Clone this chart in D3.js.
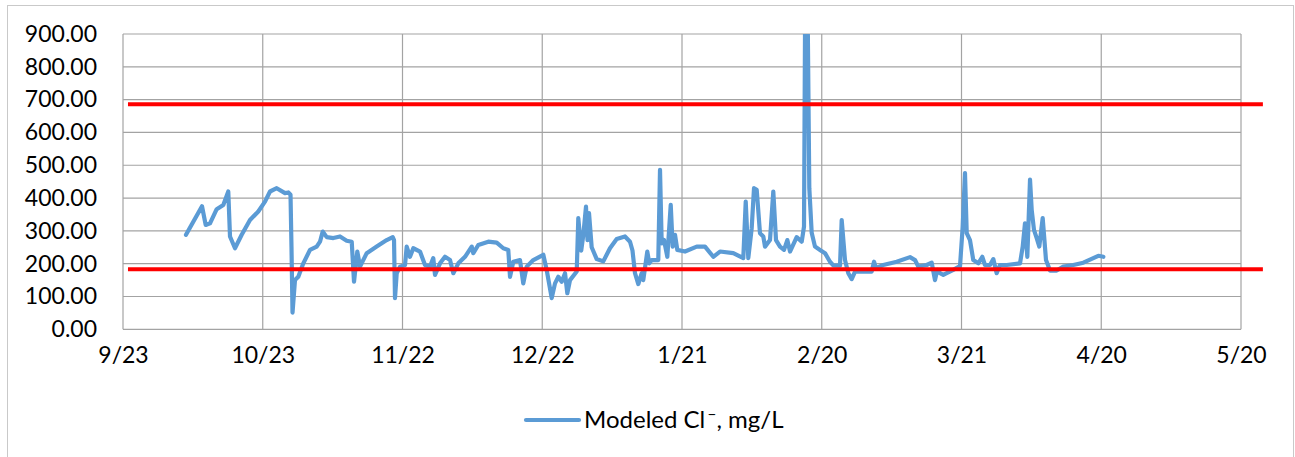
<!DOCTYPE html>
<html>
<head>
<meta charset="utf-8">
<script src="https://cdn.jsdelivr.net/npm/d3@7/dist/d3.min.js"></script>
<style>
  html, body { margin: 0; padding: 0; background: #fff; }
  svg { display: block; }
  text { font-family: Lato, "Open Sans", sans-serif; fill: #000; }
</style>
</head>
<body>
<svg id="chart" width="1295" height="457"></svg>
<script>
// Modeled chloride record, days counted from the start date below
const startDate = "2015-09-23";
const days = [
  13.52, 16.96, 17.75, 18.68, 20.11, 21.53, 22.60, 22.97, 24.04, 25.48,
  27.26, 29.04, 30.48, 31.56, 33.00, 34.78, 35.49, 35.96, 36.17, 36.39,
  36.92, 37.63, 38.71, 40.14, 41.58, 42.29, 42.87, 43.73, 45.15, 46.58,
  48.02, 49.10, 49.59, 50.30, 50.88, 52.32, 54.46, 56.61, 57.90, 58.18,
  58.39, 58.76, 59.46, 60.54, 60.90, 61.61, 62.32, 63.76, 64.83, 65.90,
  66.61, 66.98, 68.05, 69.12, 70.20, 70.91, 71.98, 73.42, 74.86, 75.20,
  76.27, 78.42, 80.22, 81.64, 82.71, 83.08, 83.78, 85.22, 85.93, 86.66,
  88.08, 90.23, 90.96, 92.03, 92.74, 93.45, 94.18, 94.89, 95.38, 95.96,
  97.40, 97.74, 98.37, 98.82, 99.39, 99.72, 100.04, 100.61, 101.69, 103.10,
  104.54, 105.98, 107.76, 108.84, 109.37, 109.91, 110.62, 111.35, 111.69, 112.55,
  112.98, 113.50, 114.91, 115.28, 115.64, 116.14, 116.85, 117.58, 118.00, 118.50,
  118.99, 120.64, 123.16, 124.94, 126.72, 128.16, 131.01, 133.16, 133.68, 134.23,
  134.96, 135.46, 136.04, 136.74, 137.45, 137.82, 138.89, 139.60, 140.18, 141.04,
  141.90, 142.61, 143.19, 144.62, 145.70, 146.19, 146.55, 146.75, 147.33, 147.84,
  148.55, 149.62, 150.70, 151.77, 152.48, 153.92, 154.28, 154.99, 155.70, 156.43,
  157.14, 160.72, 161.22, 161.65, 163.21, 166.09, 168.95, 170.02, 170.73, 172.53,
  173.60, 174.31, 174.80, 175.38, 176.09, 176.82, 178.24, 179.68, 180.26, 180.75,
  181.12, 181.82, 182.53, 183.61, 184.47, 185.04, 186.12, 186.83, 187.55, 188.26,
  189.70, 192.56, 193.14, 193.63, 194.13, 194.71, 195.07, 195.56, 196.14, 196.70,
  197.43, 198.14, 199.00, 200.44, 201.86, 204.01, 206.15, 208.30, 209.38, 210.45
];
const chloride = [
  288, 375, 318, 323, 366, 379, 420, 283, 247, 288,
  333, 359, 389, 420, 430, 415, 417, 410, 250, 51,
  150, 160, 201, 242, 252, 267, 298, 281, 278, 283,
  270, 267, 145, 237, 191, 232, 252, 272, 281, 272,
  95, 171, 191, 196, 252, 221, 247, 237, 196, 191,
  217, 166, 201, 221, 211, 171, 201, 221, 252, 232,
  257, 267, 264, 247, 242, 160, 206, 211, 140, 191,
  211, 227, 180, 95, 140, 160, 145, 171, 110, 150,
  176, 339, 240, 288, 374, 272, 354, 250, 214, 207,
  247, 275, 283, 267, 240, 171, 138, 171, 150, 237,
  201, 211, 211, 486, 262, 272, 221, 379, 252, 288,
  242, 237, 252, 252, 221, 237, 232, 217, 389, 217,
  308, 430, 425, 293, 283, 252, 272, 420, 272, 252,
  242, 272, 237, 281, 267, 313, 1300, 1300, 430, 294,
  252, 242, 232, 206, 195, 194, 333, 211, 171, 153,
  176, 176, 206, 186, 196, 206, 220, 211, 191, 196,
  203, 150, 181, 171, 166, 171, 181, 193, 313, 476,
  293, 272, 211, 201, 221, 196, 196, 214, 171, 196,
  196, 201, 252, 323, 221, 456, 364, 303, 278, 252,
  339, 211, 179, 179, 191, 196, 203, 217, 224, 221
];

// Upper and lower reference limits, drawn across the full period
const limitDays = [1.07, 244.7];
const upperLimit = 686;
const lowerLimit = 183;

const xTickDates = ["2015-09-23", "2015-10-23", "2015-11-22", "2015-12-22",
  "2016-01-21", "2016-02-20", "2016-03-21", "2016-04-20", "2016-05-20"];
const yTicks = [0, 100, 200, 300, 400, 500, 600, 700, 800, 900];
const legendLabel = "Modeled Cl";
const legendUnits = ", mg/L";

const parse = d3.utcParse("%Y-%m-%d");
const t0 = parse(startDate);
const toDate = d => new Date(t0.getTime() + d * 864e5);

const svg = d3.select("#chart");
const plot = { left: 123, right: 1241, top: 34, bottom: 329.3 };

// Outer chart frame
svg.append("rect")
  .attr("x", 7.5).attr("y", 5.5)
  .attr("width", 1286).attr("height", 470)
  .attr("fill", "#fff").attr("stroke", "#c9c9c9").attr("stroke-width", 1);

const x = d3.scaleUtc()
  .domain([parse(xTickDates[0]), parse(xTickDates[xTickDates.length - 1])])
  .range([plot.left, plot.right]);
const y = d3.scaleLinear().domain([0, 900]).range([plot.bottom, plot.top]);

// Gridlines
const grid = svg.append("g").attr("stroke", "#a3a3a3").attr("stroke-width", 1.2);
grid.selectAll("line.h").data(yTicks).join("line")
  .attr("x1", plot.left).attr("x2", plot.right)
  .attr("y1", d => y(d)).attr("y2", d => y(d));
grid.selectAll("line.v").data(xTickDates.map(parse)).join("line")
  .attr("x1", d => x(d)).attr("x2", d => x(d))
  .attr("y1", plot.top).attr("y2", plot.bottom);

// Axes (labels only, lines come from the grid)
const yAxis = d3.axisLeft(y).tickValues(yTicks).tickFormat(d3.format(".2f")).tickSize(0).tickPadding(26);
svg.append("g").attr("transform", `translate(${plot.left},0)`).call(yAxis)
  .call(g => g.select(".domain").remove())
  .selectAll("text").style("font-family", "Lato, 'Open Sans', sans-serif")
  .style("font-size", "23px").attr("fill", "#000");

const xAxis = d3.axisBottom(x).tickValues(xTickDates.map(parse))
  .tickFormat(d3.utcFormat("%-m/%-d")).tickSize(0).tickPadding(17);
svg.append("g").attr("transform", `translate(0,${plot.bottom})`).call(xAxis)
  .call(g => g.select(".domain").remove())
  .selectAll("text").style("font-family", "Lato, 'Open Sans', sans-serif")
  .style("font-size", "23px").attr("fill", "#000");

// Modeled series, clipped to the plot area
svg.append("clipPath").attr("id", "plotclip")
  .append("rect").attr("x", plot.left).attr("y", plot.top)
  .attr("width", plot.right - plot.left).attr("height", plot.bottom - plot.top);

const series = days.map((d, i) => ({ date: toDate(d), v: chloride[i] }));
const line = d3.line().x(d => x(d.date)).y(d => y(d.v));
svg.append("path").datum(series)
  .attr("clip-path", "url(#plotclip)")
  .attr("fill", "none").attr("stroke", "#5b9bd5")
  .attr("stroke-width", 4.2).attr("stroke-linejoin", "round").attr("stroke-linecap", "round")
  .attr("d", line);

// Limit lines
[upperLimit, lowerLimit].forEach(v => {
  svg.append("path")
    .datum(limitDays.map(d => ({ date: toDate(d), v })))
    .attr("fill", "none").attr("stroke", "#ff0000").attr("stroke-width", 4)
    .attr("d", line);
});

// Legend
const lg = svg.append("g");
lg.append("line").attr("x1", 526).attr("x2", 579).attr("y1", 420).attr("y2", 420)
  .attr("stroke", "#5b9bd5").attr("stroke-width", 4.2).attr("stroke-linecap", "round");
const lt = lg.append("text").attr("x", 584).attr("y", 428).style("font-size", "24px");
lt.append("tspan").text(legendLabel);
lt.append("tspan").attr("dx", 2).attr("dy", -9).style("font-size", "16px").text("\u2013");
lt.append("tspan").attr("dy", 9).text(legendUnits);
</script>
</body>
</html>
